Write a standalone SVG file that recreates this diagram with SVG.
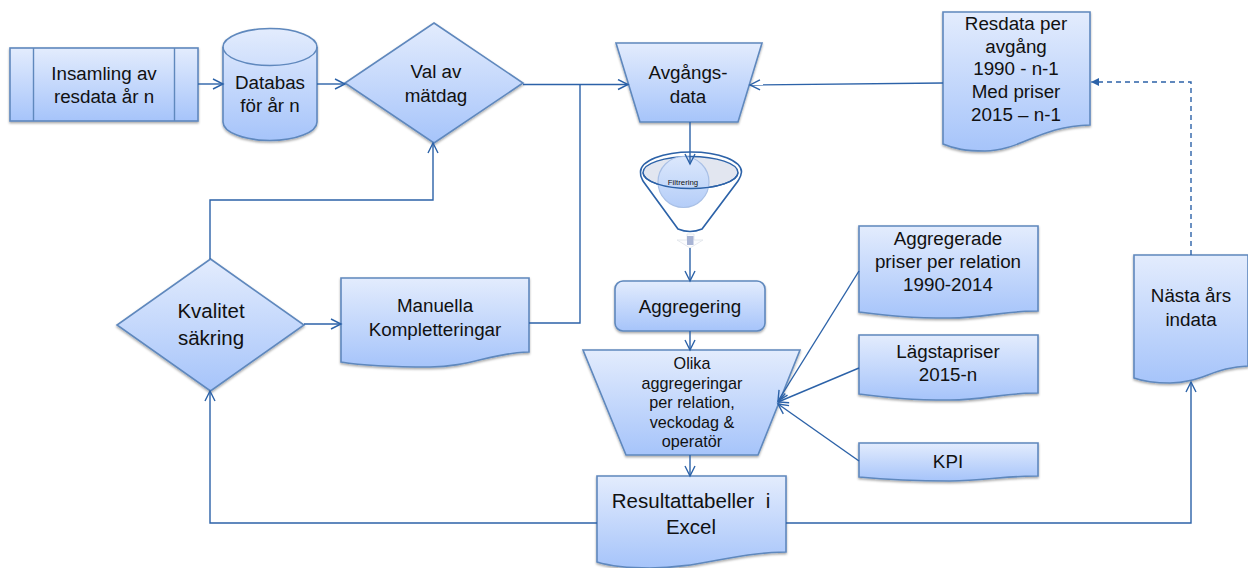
<svg xmlns="http://www.w3.org/2000/svg" width="1248" height="568" viewBox="0 0 1248 568">
<style>
.s{stroke:#5f88bd;stroke-width:1.6;fill:url(#g);filter:url(#sh)}
.l{fill:none;stroke:#5f88bd;stroke-width:1.4}
.c{fill:none;stroke:#2c62a8;stroke-width:1.4}
.a{marker-end:url(#open)}
text{font-family:"Liberation Sans",Arial,sans-serif;font-size:18.800px;fill:#111;text-anchor:middle}
.b{font-size:20.500px;white-space:pre}
.m{font-size:16.200px}
</style>
<defs>
<linearGradient id="g" x1="0" y1="0" x2="0" y2="1"><stop offset="0" stop-color="#e3ecfd"/><stop offset="1" stop-color="#a6c4fa"/></linearGradient>
<linearGradient id="gc" x1="0" y1="0" x2="0" y2="1"><stop offset="0" stop-color="#dce8fc"/><stop offset="1" stop-color="#b4cdf8"/></linearGradient>
<filter id="sh" x="-10%" y="-10%" width="120%" height="125%"><feDropShadow dx="0" dy="1.500" stdDeviation="1.200" flood-color="#000" flood-opacity="0.350"/></filter>
<marker id="open" markerUnits="userSpaceOnUse" markerWidth="14" markerHeight="14" refX="11" refY="6" orient="auto"><path d="M1 1L11 6L1 11" fill="none" stroke="#2c62a8" stroke-width="1.400"/></marker>
<marker id="solid" markerUnits="userSpaceOnUse" markerWidth="10" markerHeight="10" refX="8" refY="4" orient="auto"><path d="M0 0L8 4L0 8Z" fill="#2c62a8"/></marker>
</defs>
<g id="insamling"><rect class="s" x="10" y="48" width="188" height="73"/><path class="l" d="M33.500 48V121M174.500 48V121"/><text x="104" y="80">Insamling av</text><text x="104" y="103">resdata år n</text></g>
<g id="databas"><path class="s" d="M223 47A47 18.500 0 0 1 317 47V122A47 18.500 0 0 1 223 122Z"/><path class="l" d="M223 47A47 18.500 0 0 0 317 47"/><text x="270" y="89">Databas</text><text x="270" y="112">för år n</text></g>
<g id="valavmatdag"><path class="s" d="M434 23L523 83L434 143L345 83Z"/><text x="436" y="78">Val av</text><text x="436" y="102">mätdag</text></g>
<g id="avgangsdata"><path class="s" d="M616 43H762L738 122H640Z"/><text x="688" y="79">Avgångs-</text><text x="688" y="103">data</text></g>
<g id="resdata"><path class="s" d="M943 12H1090V125C1040 126 1020 151 985 151C965 151 955 149 943 144Z"/><text x="1016" y="30">Resdata per</text><text x="1016" y="53">avgång</text><text x="1016" y="75">1990 - n-1</text><text x="1016" y="98">Med priser</text><text x="1016" y="121">2015 – n-1</text></g>
<g id="filtrering">
<path d="M640.500 172A50.500 20 0 0 1 741.500 172C741 177 739 179 738 181L702 229Q690 234 678 229L643 181C642 179 640 176 640.500 172Z" fill="#fff" stroke="#2c62a8" stroke-width="1.600"/>
<ellipse cx="690.500" cy="172.500" rx="47.500" ry="16" fill="#e2e6f0" stroke="#2c62a8" stroke-width="1.400"/>
<circle cx="683.500" cy="182" r="25.500" fill="url(#gc)" stroke="#a9c0e6" stroke-width="1.200"/>
<path d="M643 172.500A47.500 16 0 0 0 738 172.500" fill="none" stroke="#2c62a8" stroke-width="1.400"/>
<text x="683" y="185" style="font-size:7.800px">Filtrering</text>
<path d="M677 240H687V234H694V240H703L690 248Z" fill="#fbfcfe" stroke="#dfe3ea" stroke-width="0.800"/>
<rect x="687" y="236" width="6.500" height="9" fill="#a8b4d4"/>
</g>
<g id="aggregering"><rect class="s" x="615" y="281" width="150" height="50" rx="8"/><text x="690" y="313">Aggregering</text></g>
<g id="olika"><path class="s" d="M583 350H800L758 455H626Z"/><text class="m" x="692" y="369">Olika</text><text class="m" x="692" y="389">aggregeringar</text><text class="m" x="692" y="408">per relation,</text><text class="m" x="692" y="428">veckodag &amp;</text><text class="m" x="692" y="447">operatör</text></g>
<g id="resultat"><path class="s" d="M597 476H786V552C730 553 700 568 650 568C625 568 610 566 597 562Z"/><text class="b" x="691" y="508">Resultattabeller  i</text><text class="b" x="691" y="534">Excel</text></g>
<g id="aggregerade"><path class="s" d="M859 226H1038V311C1000 311 985 318 950 318C910 318 890 316 859 312Z"/><text x="948" y="245">Aggregerade</text><text x="948" y="268">priser per relation</text><text x="948" y="291">1990-2014</text></g>
<g id="lagstapriser"><path class="s" d="M859 335H1038V393C1000 393 985 400 950 400C910 400 890 398 859 394Z"/><text x="948" y="358">Lägstapriser</text><text x="948" y="381">2015-n</text></g>
<g id="kpi"><path class="s" d="M859 443H1038V476C1000 476 985 481 950 481C910 481 890 480 859 477Z"/><text x="948" y="468">KPI</text></g>
<g id="nasta"><path class="s" d="M1134 255H1248V366C1215 367 1200 383 1170 383C1155 383 1145 382 1134 378Z"/><text x="1191" y="302">Nästa års</text><text x="1191" y="326">indata</text></g>
<g id="kvalitet"><path class="s" d="M210.500 259L304 325L210.500 391L117 325Z"/><text class="b" x="211" y="318">Kvalitet</text><text class="b" x="211" y="345">säkring</text></g>
<g id="manuella"><path class="s" d="M341 278H529V352C490 353 470 367 430 367C390 367 365 366 341 362Z"/><text x="435" y="312">Manuella</text><text x="435" y="336">Kompletteringar</text></g>
<g id="connectors">
<path class="c a" d="M198 84H223"/>
<path class="c a" d="M317 84H345"/>
<path class="c a" d="M523 84.500H628"/>
<path class="c" d="M529 323H580V85"/>
<path class="c a" d="M943 83L750 85"/>
<path class="c a" d="M690 122V164"/>
<path class="c a" d="M690 248V281"/>
<path class="c a" d="M690 331V350"/>
<path class="c a" d="M690 455V476"/>
<path class="c a" d="M304 324H341"/>
<path class="c a" d="M210 259V200H433V143"/>
<path class="c a" d="M597 523H210V391"/>
<path class="c a" d="M786 523H1191V382"/>
<path class="c" d="M1191 255V82H1098" stroke-dasharray="5 4"/>
<path d="M1098 82H1091" stroke="#2c62a8" fill="none" marker-end="url(#solid)"/>
<path class="c a" d="M859 271L778 401"/>
<path class="c a" d="M859 368L778 402"/>
<path class="c a" d="M859 461L778 404"/>
</g>
</svg>
